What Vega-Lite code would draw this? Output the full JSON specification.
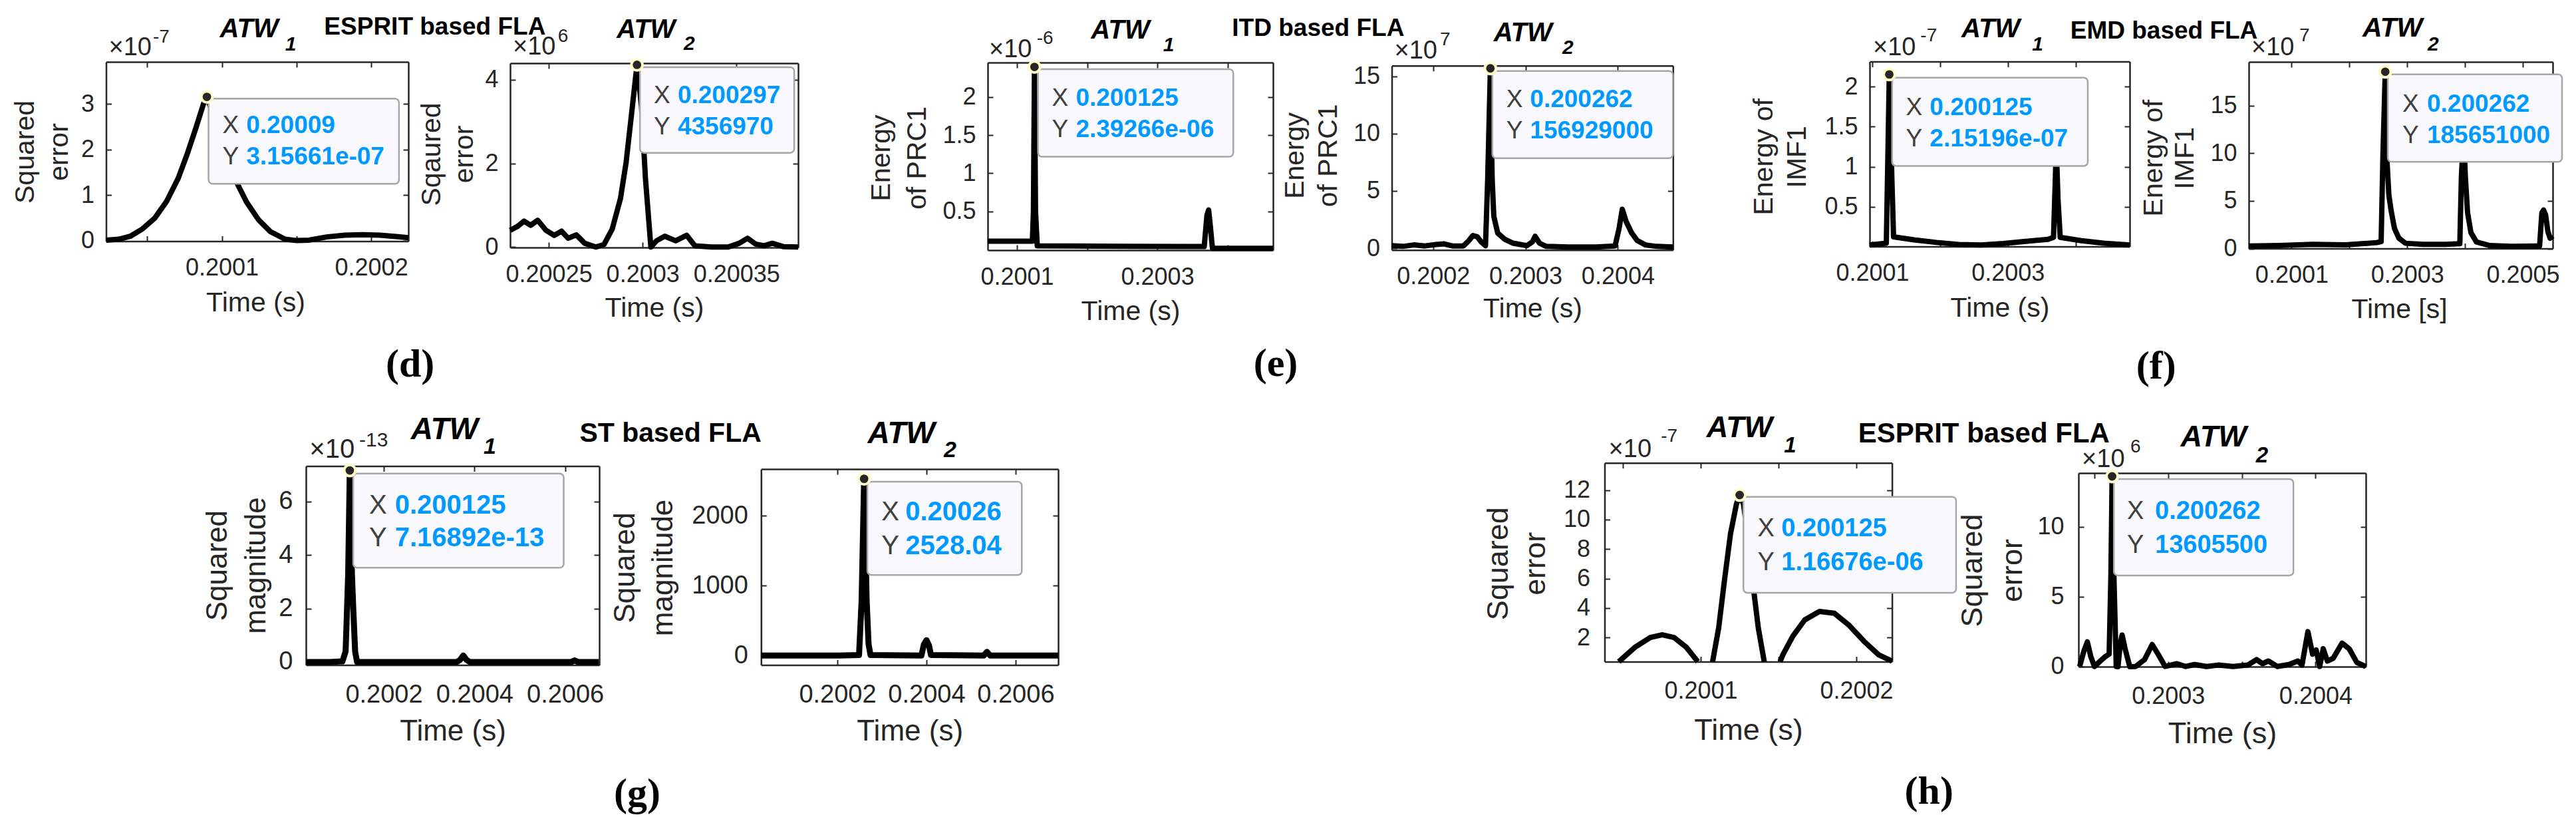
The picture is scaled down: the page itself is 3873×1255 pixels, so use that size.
{
"$schema": "https://vega.github.io/schema/vega-lite/v6.json",
"width": 3873, "height": 1255, "autosize": {"type": "none"}, "padding": 0, "background": "white",
"config": {"view": {"stroke": null}, "font": "Liberation Sans",
 "axis": {"grid": false, "domainColor": "#262626", "domainWidth": 2.5, "tickColor": "#262626", "tickWidth": 2, "tickSize": -8, "labelColor": "#262626", "labelFont": "Liberation Sans", "titleFont": "Liberation Sans", "titleFontWeight": "normal", "titleColor": "#262626", "labelFlush": false, "labelOverlap": false}},
"datasets": {
 "d1": [{"t":0.2000225,"v":0.01},{"t":0.200031,"v":0.03},{"t":0.200039,"v":0.1},{"t":0.200047,"v":0.26},{"t":0.200055,"v":0.49},{"t":0.2000628,"v":0.85},{"t":0.2000708,"v":1.37},{"t":0.2000767,"v":1.89},{"t":0.2000827,"v":2.48},{"t":0.2000877,"v":3.0},{"t":0.20009,"v":3.15661},{"t":0.2000986,"v":2.35},{"t":0.2001046,"v":1.76},{"t":0.2001105,"v":1.24},{"t":0.2001165,"v":0.85},{"t":0.2001245,"v":0.46},{"t":0.2001324,"v":0.2},{"t":0.2001423,"v":0.03},{"t":0.2001503,"v":0},{"t":0.2001583,"v":0.01},{"t":0.2001702,"v":0.08},{"t":0.2001821,"v":0.12},{"t":0.200194,"v":0.13},{"t":0.200206,"v":0.12},{"t":0.2002179,"v":0.085},{"t":0.2002249,"v":0.065}],
 "d2": [{"t":0.2002294,"v":0.40},{"t":0.2002332,"v":0.49},{"t":0.2002368,"v":0.62},{"t":0.2002403,"v":0.52},{"t":0.2002441,"v":0.64},{"t":0.2002485,"v":0.40},{"t":0.2002529,"v":0.28},{"t":0.2002568,"v":0.38},{"t":0.2002603,"v":0.21},{"t":0.2002647,"v":0.29},{"t":0.2002691,"v":0.09},{"t":0.200275,"v":0.0},{"t":0.2002794,"v":0.06},{"t":0.2002838,"v":0.43},{"t":0.2002882,"v":1.16},{"t":0.2002912,"v":2.02},{"t":0.2002941,"v":3.18},{"t":0.200297,"v":4.35697},{"t":0.2002994,"v":3.36},{"t":0.2003015,"v":1.65},{"t":0.2003044,"v":0.0},{"t":0.2003074,"v":0.15},{"t":0.2003118,"v":0.26},{"t":0.2003176,"v":0.15},{"t":0.2003235,"v":0.28},{"t":0.2003279,"v":0.03},{"t":0.2003368,"v":0.0},{"t":0.2003456,"v":0.0},{"t":0.2003515,"v":0.09},{"t":0.2003559,"v":0.21},{"t":0.2003603,"v":0.07},{"t":0.2003647,"v":0.03},{"t":0.2003691,"v":0.09},{"t":0.200375,"v":0.01},{"t":0.2003829,"v":0.0}],
 "e1": [{"t":0.2000584,"v":0.11},{"t":0.2001,"v":0.11},{"t":0.200122,"v":0.11},{"t":0.2001235,"v":0.5},{"t":0.200125,"v":2.39266},{"t":0.2001265,"v":0.5},{"t":0.200129,"v":0.05},{"t":0.2001784,"v":0.047},{"t":0.2002569,"v":0.043},{"t":0.2003353,"v":0.04},{"t":0.2003667,"v":0.04},{"t":0.2003706,"v":0.45},{"t":0.200373,"v":0.52},{"t":0.2003755,"v":0.3},{"t":0.2003784,"v":0.017},{"t":0.2004137,"v":0.017},{"t":0.2004647,"v":0.017}],
 "e2": [{"t":0.2001552,"v":0.22},{"t":0.2001672,"v":0.16},{"t":0.2001791,"v":0.29},{"t":0.200191,"v":0.2},{"t":0.200203,"v":0.33},{"t":0.2002119,"v":0.38},{"t":0.2002209,"v":0.2},{"t":0.2002328,"v":0.2},{"t":0.2002388,"v":0.67},{"t":0.200243,"v":1.11},{"t":0.2002478,"v":1.0},{"t":0.2002519,"v":0.56},{"t":0.2002567,"v":0.22},{"t":0.2002591,"v":6.1},{"t":0.200262,"v":15.6929},{"t":0.2002639,"v":6.1},{"t":0.2002657,"v":2.78},{"t":0.2002699,"v":1.33},{"t":0.2002776,"v":0.78},{"t":0.2002866,"v":0.44},{"t":0.2003015,"v":0.22},{"t":0.2003075,"v":0.56},{"t":0.2003104,"v":1.04},{"t":0.2003152,"v":0.44},{"t":0.2003224,"v":0.16},{"t":0.2003463,"v":0.11},{"t":0.2003761,"v":0.11},{"t":0.200397,"v":0.2},{"t":0.2004012,"v":1.67},{"t":0.2004048,"v":3.4},{"t":0.200409,"v":2.33},{"t":0.200415,"v":1.33},{"t":0.200421,"v":0.67},{"t":0.2004299,"v":0.29},{"t":0.2004418,"v":0.16},{"t":0.2004597,"v":0.11}],
 "f1": [{"t":0.2000959,"v":0.025},{"t":0.2001206,"v":0.048},{"t":0.200123,"v":1.17},{"t":0.200125,"v":2.15196},{"t":0.2001288,"v":0.86},{"t":0.2001313,"v":0.127},{"t":0.2001617,"v":0.089},{"t":0.2001947,"v":0.057},{"t":0.2002276,"v":0.032},{"t":0.2002605,"v":0.025},{"t":0.2002934,"v":0.044},{"t":0.2003263,"v":0.07},{"t":0.2003593,"v":0.095},{"t":0.2003675,"v":0.12},{"t":0.2003716,"v":1.25},{"t":0.2003741,"v":0.6},{"t":0.2003774,"v":0.12},{"t":0.2004086,"v":0.079},{"t":0.2004416,"v":0.048},{"t":0.2004799,"v":0.025}],
 "f2": [{"t":0.2000259,"v":0.27},{"t":0.2000785,"v":0.31},{"t":0.200136,"v":0.43},{"t":0.2001935,"v":0.38},{"t":0.2002472,"v":0.62},{"t":0.2002549,"v":0.73},{"t":0.200258,"v":9.8},{"t":0.200262,"v":18.5651},{"t":0.2002645,"v":9.8},{"t":0.2002683,"v":5.6},{"t":0.2002721,"v":4.0},{"t":0.2002779,"v":2.13},{"t":0.2002856,"v":1.08},{"t":0.2002971,"v":0.55},{"t":0.2003277,"v":0.43},{"t":0.2003661,"v":0.43},{"t":0.200391,"v":0.5},{"t":0.2003937,"v":7.5},{"t":0.2003975,"v":12.2},{"t":0.2004006,"v":7.5},{"t":0.2004044,"v":3.76},{"t":0.2004102,"v":1.67},{"t":0.2004197,"v":0.69},{"t":0.2004427,"v":0.31},{"t":0.2004812,"v":0.22},{"t":0.200529,"v":0.27},{"t":0.2005329,"v":3.76},{"t":0.2005359,"v":4.04},{"t":0.2005394,"v":3.53},{"t":0.2005433,"v":1.78},{"t":0.2005471,"v":1.08},{"t":0.2005517,"v":1.32}],
 "g1": [{"t":0.2000288,"v":0},{"t":0.2000807,"v":0},{"t":0.2001088,"v":0.02},{"t":0.2001158,"v":0.39},{"t":0.2001214,"v":3.26},{"t":0.200125,"v":7.16892},{"t":0.2001298,"v":3.26},{"t":0.2001326,"v":2.03},{"t":0.2001368,"v":0.39},{"t":0.200141,"v":0},{"t":0.2002211,"v":0},{"t":0.2003614,"v":0},{"t":0.2003684,"v":0.08},{"t":0.2003754,"v":0.24},{"t":0.2003825,"v":0.08},{"t":0.2003895,"v":0},{"t":0.200614,"v":0},{"t":0.200621,"v":0.06},{"t":0.200628,"v":0},{"t":0.2006744,"v":0}],
 "g2": [{"t":0.2000287,"v":0},{"t":0.2002029,"v":0},{"t":0.2002486,"v":8},{"t":0.2002543,"v":778},{"t":0.20026,"v":2528.04},{"t":0.2002657,"v":778},{"t":0.20027,"v":162},{"t":0.2002743,"v":8},{"t":0.2003886,"v":0},{"t":0.2003943,"v":162},{"t":0.2004,"v":220},{"t":0.2004057,"v":143},{"t":0.20041,"v":8},{"t":0.2005286,"v":0},{"t":0.2005357,"v":54},{"t":0.2005429,"v":0},{"t":0.2006957,"v":0}],
 "h1": [{"seg":"a","t":0.2000473,"v":0.356},{"seg":"a","t":0.200058,"v":1.36},{"seg":"a","t":0.2000676,"v":2.0},{"seg":"a","t":0.2000752,"v":2.18},{"seg":"a","t":0.2000828,"v":2.0},{"seg":"a","t":0.2000905,"v":1.36},{"seg":"a","t":0.2000981,"v":0.356},
        {"seg":"b","t":0.2001076,"v":0.356},{"seg":"b","t":0.2001115,"v":2.64},{"seg":"b","t":0.2001153,"v":5.93},{"seg":"b","t":0.2001191,"v":9.03},{"seg":"b","t":0.2001229,"v":11.04},{"seg":"b","t":0.200125,"v":11.6676},{"seg":"b","t":0.2001275,"v":11.04},{"seg":"b","t":0.2001305,"v":8.67},{"seg":"b","t":0.2001336,"v":5.56},{"seg":"b","t":0.200137,"v":2.64},{"seg":"b","t":0.2001408,"v":0.356},
        {"seg":"c","t":0.200151,"v":0.356},{"seg":"c","t":0.2001527,"v":0.81},{"seg":"c","t":0.2001592,"v":2.09},{"seg":"c","t":0.2001668,"v":3.19},{"seg":"c","t":0.2001763,"v":3.77},{"seg":"c","t":0.2001859,"v":3.64},{"seg":"c","t":0.2001954,"v":2.82},{"seg":"c","t":0.200205,"v":1.73},{"seg":"c","t":0.2002145,"v":0.81},{"seg":"c","t":0.2002229,"v":0.4}],
 "h2": [{"t":0.20024,"v":0},{"t":0.2002428,"v":1.08},{"t":0.2002452,"v":1.76},{"t":0.2002476,"v":0.69},{"t":0.20025,"v":0},{"t":0.200254,"v":0.39},{"t":0.2002572,"v":0.69},{"t":0.20026,"v":0.88},{"t":0.2002612,"v":6.6},{"t":0.200262,"v":13.6055},{"t":0.2002632,"v":6.6},{"t":0.2002648,"v":0},{"t":0.200266,"v":-0.01},{"t":0.2002676,"v":1.67},{"t":0.2002688,"v":2.25},{"t":0.2002708,"v":1.27},{"t":0.200274,"v":-0.01},{"t":0.200278,"v":0},{"t":0.200284,"v":0.49},{"t":0.2002892,"v":1.57},{"t":0.2002932,"v":0.88},{"t":0.200298,"v":0},{"t":0.200306,"v":0.2},{"t":0.200312,"v":0},{"t":0.200318,"v":0.14},{"t":0.200326,"v":0},{"t":0.200334,"v":0.1},{"t":0.200344,"v":0},{"t":0.200354,"v":0.1},{"t":0.20036,"v":0.49},{"t":0.200364,"v":0.2},{"t":0.200368,"v":0.39},{"t":0.200374,"v":0},{"t":0.200382,"v":0.14},{"t":0.200388,"v":0.39},{"t":0.2003908,"v":0.1},{"t":0.2003948,"v":2.49},{"t":0.200398,"v":0.88},{"t":0.2004004,"v":1.18},{"t":0.2004028,"v":0},{"t":0.2004052,"v":1.27},{"t":0.200408,"v":0.39},{"t":0.200412,"v":0.59},{"t":0.200418,"v":1.67},{"t":0.2004228,"v":1.27},{"t":0.200428,"v":0.29},{"t":0.2004341,"v":-0.01}]
},
"resolve": {"scale": {"x": "independent", "y": "independent"}, "axis": {"x": "independent", "y": "independent"}},
"layer": [
{"data": {"values": [{}]}, "layer": [
 {"data": {"name": "d1"}, "mark": {"type": "line", "color": "#000000", "strokeWidth": 8, "strokeJoin": "round"},
  "encoding": {
   "x": {"field": "t", "type": "quantitative", "scale": {"domain": [0.2000225, 0.2002249], "range": [159.5, 614], "nice": false, "zero": false},
    "axis": {"orient": "bottom", "offset": -892.5, "values": [0.20005, 0.2001, 0.20015, 0.2002], "format": ".5~f", "labelExpr": "indexof(['0.2001','0.2002'], datum.label) >= 0 ? datum.label : ''", "labelFontSize": 36, "labelPadding": 31, "title": "Time (s)", "titleFontSize": 41, "titleX": 384, "titleY": 93, "titleBaseline": "middle", "titleAlign": "center"}},
   "y": {"field": "v", "type": "quantitative", "scale": {"domain": [-0.013, 3.925], "range": [362.5, 93], "nice": false, "zero": false},
    "axis": {"orient": "left", "offset": -159.5, "values": [0, 1, 2, 3], "format": "~f", "labelFontSize": 36, "labelPadding": 26, "title": ["Squared", "error"], "titleFontSize": 41, "titleAngle": 270, "titleX": -121.5, "titleY": 228, "titleBaseline": "middle", "titleAlign": "center", "titleLineHeight": 51}}}},
 {"mark": {"type": "rect", "fill": "#f9f9fd", "stroke": "#a6a6a6", "strokeWidth": 2.5, "cornerRadius": 6},
  "encoding": {"x": {"datum": 0.2000911, "type": "quantitative", "axis": null}, "x2": {"datum": 0.2002186}, "y": {"datum": 3.118, "type": "quantitative", "axis": null}, "y2": {"datum": 1.247}}},
 {"mark": {"type": "text", "text": ["X", "Y"], "align": "left", "baseline": "alphabetic", "fontSize": 37, "lineHeight": 47, "color": "#404040"},
  "encoding": {"x": {"datum": 0.2001004, "type": "quantitative", "axis": null}, "y": {"datum": 2.364, "type": "quantitative", "axis": null}}},
 {"mark": {"type": "text", "text": ["0.20009", "3.15661e-07"], "align": "left", "baseline": "alphabetic", "fontSize": 37, "fontWeight": "bold", "lineHeight": 47, "color": "#0099ff"},
  "encoding": {"x": {"datum": 0.2001163, "type": "quantitative", "axis": null}, "y": {"datum": 2.364, "type": "quantitative", "axis": null}}},
 {"mark": {"type": "text", "text": "ATW", "align": "left", "baseline": "alphabetic", "fontSize": 40, "fontWeight": "bold", "fontStyle": "italic", "color": "#000000"},
  "encoding": {"x": {"datum": 0.2000986, "type": "quantitative", "axis": null}, "y": {"datum": 4.4666, "type": "quantitative", "axis": null}}},
 {"mark": {"type": "text", "text": "1", "align": "left", "baseline": "alphabetic", "fontSize": 30, "fontWeight": "bold", "fontStyle": "italic", "color": "#000000"},
  "encoding": {"x": {"datum": 0.2001424, "type": "quantitative", "axis": null}, "y": {"datum": 4.1766, "type": "quantitative", "axis": null}}},
 {"mark": {"type": "text", "text": "×10", "align": "left", "baseline": "alphabetic", "fontSize": 38, "color": "#262626"},
  "encoding": {"x": {"datum": 0.2000243, "type": "quantitative", "axis": null}, "y": {"datum": 4.075, "type": "quantitative", "axis": null}}},
 {"mark": {"type": "text", "text": "-7", "align": "left", "baseline": "alphabetic", "fontSize": 28, "color": "#262626"},
  "encoding": {"x": {"datum": 0.2000539, "type": "quantitative", "axis": null}, "y": {"datum": 4.351, "type": "quantitative", "axis": null}}},
 {"mark": {"type": "text", "text": "ESPRIT based FLA", "align": "left", "baseline": "alphabetic", "fontSize": 37, "fontWeight": "bold", "color": "#000000"},
  "encoding": {"x": {"datum": 0.2001685, "type": "quantitative", "axis": null}, "y": {"datum": 4.53, "type": "quantitative", "axis": null}}},
 {"mark": {"type": "text", "text": "(d)", "align": "center", "baseline": "middle", "font": "Liberation Serif", "fontSize": 60, "fontWeight": "bold", "color": "#000000"},
  "encoding": {"x": {"datum": 0.2002261, "type": "quantitative", "axis": null}, "y": {"datum": -2.7264, "type": "quantitative", "axis": null}}},
 {"data": {"values": [{"t": 0.20009, "v": 3.15661}]},
  "mark": {"type": "point", "shape": "circle", "filled": true, "size": 283, "fill": "#262626", "stroke": "#ffffcc", "strokeWidth": 4, "opacity": 1},
  "encoding": {"x": {"field": "t", "type": "quantitative", "axis": {"orient": "top", "offset": -93, "values": [0.20005, 0.2001, 0.20015, 0.2002], "labels": false, "title": null}},
   "y": {"field": "v", "type": "quantitative", "axis": {"orient": "right", "offset": -3259, "values": [0, 1, 2, 3], "labels": false, "title": null}}}}
]},
{"data": {"values": [{}]}, "layer": [
 {"data": {"name": "d2"}, "mark": {"type": "line", "color": "#000000", "strokeWidth": 8, "strokeJoin": "round"},
  "encoding": {
   "x": {"field": "t", "type": "quantitative", "scale": {"domain": [0.2002294, 0.2003829], "range": [767, 1200], "nice": false, "zero": false},
    "axis": {"orient": "bottom", "offset": -883, "values": [0.20025, 0.2003, 0.20035], "format": ".5~f", "labelFontSize": 36, "labelPadding": 31, "title": "Time (s)", "titleFontSize": 41, "titleX": 983.5, "titleY": 91, "titleBaseline": "middle", "titleAlign": "center"}},
   "y": {"field": "v", "type": "quantitative", "scale": {"domain": [-0.011, 4.396], "range": [372, 95], "nice": false, "zero": false},
    "axis": {"orient": "left", "offset": -767, "values": [0, 2, 4], "format": "~f", "labelFontSize": 36, "labelPadding": 26, "title": ["Sqaured", "error"], "titleFontSize": 41, "titleAngle": 270, "titleX": -118, "titleY": 231.5, "titleBaseline": "middle", "titleAlign": "center", "titleLineHeight": 49}}}},
 {"mark": {"type": "rect", "fill": "#f9f9fd", "stroke": "#a6a6a6", "strokeWidth": 2.5, "cornerRadius": 6},
  "encoding": {"x": {"datum": 0.2002986, "type": "quantitative", "axis": null}, "x2": {"datum": 0.2003808}, "y": {"datum": 4.301, "type": "quantitative", "axis": null}, "y2": {"datum": 2.254}}},
 {"mark": {"type": "text", "text": ["X", "Y"], "align": "left", "baseline": "alphabetic", "fontSize": 37, "lineHeight": 47, "color": "#404040"},
  "encoding": {"x": {"datum": 0.200306, "type": "quantitative", "axis": null}, "y": {"datum": 3.444, "type": "quantitative", "axis": null}}},
 {"mark": {"type": "text", "text": ["0.200297", "4356970"], "align": "left", "baseline": "alphabetic", "fontSize": 37, "fontWeight": "bold", "lineHeight": 47, "color": "#0099ff"},
  "encoding": {"x": {"datum": 0.2003187, "type": "quantitative", "axis": null}, "y": {"datum": 3.444, "type": "quantitative", "axis": null}}},
 {"mark": {"type": "text", "text": "ATW", "align": "left", "baseline": "alphabetic", "fontSize": 40, "fontWeight": "bold", "fontStyle": "italic", "color": "#000000"},
  "encoding": {"x": {"datum": 0.2002862, "type": "quantitative", "axis": null}, "y": {"datum": 5.0, "type": "quantitative", "axis": null}}},
 {"mark": {"type": "text", "text": "2", "align": "left", "baseline": "alphabetic", "fontSize": 30, "fontWeight": "bold", "fontStyle": "italic", "color": "#000000"},
  "encoding": {"x": {"datum": 0.2003219, "type": "quantitative", "axis": null}, "y": {"datum": 4.714, "type": "quantitative", "axis": null}}},
 {"mark": {"type": "text", "text": "×10", "align": "left", "baseline": "alphabetic", "fontSize": 38, "color": "#262626"},
  "encoding": {"x": {"datum": 0.2002308, "type": "quantitative", "axis": null}, "y": {"datum": 4.603, "type": "quantitative", "axis": null}}},
 {"mark": {"type": "text", "text": "6", "align": "left", "baseline": "alphabetic", "fontSize": 28, "color": "#262626"},
  "encoding": {"x": {"datum": 0.2002548, "type": "quantitative", "axis": null}, "y": {"datum": 4.904, "type": "quantitative", "axis": null}}},
 {"data": {"values": [{"t": 0.200297, "v": 4.35697}]},
  "mark": {"type": "point", "shape": "circle", "filled": true, "size": 283, "fill": "#262626", "stroke": "#ffffcc", "strokeWidth": 4, "opacity": 1},
  "encoding": {"x": {"field": "t", "type": "quantitative", "axis": {"orient": "top", "offset": -95, "values": [0.20025, 0.2003, 0.20035], "labels": false, "title": null}},
   "y": {"field": "v", "type": "quantitative", "axis": {"orient": "right", "offset": -2673, "values": [0, 2, 4], "labels": false, "title": null}}}}
]},
{"data": {"values": [{}]}, "layer": [
 {"data": {"name": "e1"}, "mark": {"type": "line", "color": "#000000", "strokeWidth": 8, "strokeJoin": "round"},
  "encoding": {
   "x": {"field": "t", "type": "quantitative", "scale": {"domain": [0.2000584, 0.2004647], "range": [1485, 1914], "nice": false, "zero": false},
    "axis": {"orient": "bottom", "offset": -879, "values": [0.2001, 0.2002, 0.2003, 0.2004], "format": ".5~f", "labelExpr": "indexof(['0.2001','0.2003'], datum.label) >= 0 ? datum.label : ''", "labelFontSize": 36, "labelPadding": 31, "title": "Time (s)", "titleFontSize": 41, "titleX": 1699.5, "titleY": 92.7, "titleBaseline": "middle", "titleAlign": "center"}},
   "y": {"field": "v", "type": "quantitative", "scale": {"domain": [-0.007, 2.45], "range": [376, 94], "nice": false, "zero": false},
    "axis": {"orient": "left", "offset": -1485, "values": [0.5, 1, 1.5, 2], "format": "~f", "labelFontSize": 36, "labelPadding": 26, "title": ["Energy", "of PRC1"], "titleFontSize": 41, "titleAngle": 270, "titleX": -159.4, "titleY": 237, "titleBaseline": "middle", "titleAlign": "center", "titleLineHeight": 54}}}},
 {"mark": {"type": "rect", "fill": "#f9f9fd", "stroke": "#a6a6a6", "strokeWidth": 2.5, "cornerRadius": 6},
  "encoding": {"x": {"datum": 0.20013, "type": "quantitative", "axis": null}, "x2": {"datum": 0.2004081}, "y": {"datum": 2.3637, "type": "quantitative", "axis": null}, "y2": {"datum": 1.2164}}},
 {"mark": {"type": "text", "text": ["X", "Y"], "align": "left", "baseline": "alphabetic", "fontSize": 37, "lineHeight": 47, "color": "#404040"},
  "encoding": {"x": {"datum": 0.2001498, "type": "quantitative", "axis": null}, "y": {"datum": 1.8806, "type": "quantitative", "axis": null}}},
 {"mark": {"type": "text", "text": ["0.200125", "2.39266e-06"], "align": "left", "baseline": "alphabetic", "fontSize": 37, "fontWeight": "bold", "lineHeight": 47, "color": "#0099ff"},
  "encoding": {"x": {"datum": 0.2001838, "type": "quantitative", "axis": null}, "y": {"datum": 1.8806, "type": "quantitative", "axis": null}}},
 {"mark": {"type": "text", "text": "ATW", "align": "left", "baseline": "alphabetic", "fontSize": 40, "fontWeight": "bold", "fontStyle": "italic", "color": "#000000"},
  "encoding": {"x": {"datum": 0.2002055, "type": "quantitative", "axis": null}, "y": {"datum": 2.7606, "type": "quantitative", "axis": null}}},
 {"mark": {"type": "text", "text": "1", "align": "left", "baseline": "alphabetic", "fontSize": 30, "fontWeight": "bold", "fontStyle": "italic", "color": "#000000"},
  "encoding": {"x": {"datum": 0.2003082, "type": "quantitative", "axis": null}, "y": {"datum": 2.5967, "type": "quantitative", "axis": null}}},
 {"mark": {"type": "text", "text": "×10", "align": "left", "baseline": "alphabetic", "fontSize": 38, "color": "#262626"},
  "encoding": {"x": {"datum": 0.2000603, "type": "quantitative", "axis": null}, "y": {"datum": 2.519, "type": "quantitative", "axis": null}}},
 {"mark": {"type": "text", "text": "-6", "align": "left", "baseline": "alphabetic", "fontSize": 28, "color": "#262626"},
  "encoding": {"x": {"datum": 0.2001282, "type": "quantitative", "axis": null}, "y": {"datum": 2.6916, "type": "quantitative", "axis": null}}},
 {"mark": {"type": "text", "text": "ITD based FLA", "align": "left", "baseline": "alphabetic", "fontSize": 37, "fontWeight": "bold", "color": "#000000"},
  "encoding": {"x": {"datum": 0.2004063, "type": "quantitative", "axis": null}, "y": {"datum": 2.7951, "type": "quantitative", "axis": null}}},
 {"mark": {"type": "text", "text": "(e)", "align": "center", "baseline": "middle", "font": "Liberation Serif", "fontSize": 60, "fontWeight": "bold", "color": "#000000"},
  "encoding": {"x": {"datum": 0.2004685, "type": "quantitative", "axis": null}, "y": {"datum": -1.5011, "type": "quantitative", "axis": null}}},
 {"data": {"values": [{"t": 0.200125, "v": 2.39266}]},
  "mark": {"type": "point", "shape": "circle", "filled": true, "size": 283, "fill": "#262626", "stroke": "#ffffcc", "strokeWidth": 4, "opacity": 1},
  "encoding": {"x": {"field": "t", "type": "quantitative", "axis": {"orient": "top", "offset": -94, "values": [0.2001, 0.2002, 0.2003, 0.2004], "labels": false, "title": null}},
   "y": {"field": "v", "type": "quantitative", "axis": {"orient": "right", "offset": -1959, "values": [0.5, 1, 1.5, 2], "labels": false, "title": null}}}}
]},
{"data": {"values": [{}]}, "layer": [
 {"data": {"name": "e2"}, "mark": {"type": "line", "color": "#000000", "strokeWidth": 8, "strokeJoin": "round"},
  "encoding": {
   "x": {"field": "t", "type": "quantitative", "scale": {"domain": [0.2001552, 0.2004597], "range": [2092.5, 2515.3], "nice": false, "zero": false},
    "axis": {"orient": "bottom", "offset": -879.2, "values": [0.2002, 0.2003, 0.2004], "format": ".5~f", "labelFontSize": 36, "labelPadding": 31, "title": "Time (s)", "titleFontSize": 41, "titleX": 2303.9, "titleY": 89, "titleBaseline": "middle", "titleAlign": "center"}},
   "y": {"field": "v", "type": "quantitative", "scale": {"domain": [-0.157, 15.93], "range": [375.8, 98.7], "nice": false, "zero": false},
    "axis": {"orient": "left", "offset": -2092.5, "values": [0, 5, 10, 15], "format": "~f", "labelFontSize": 36, "labelPadding": 26, "title": ["Energy", "of PRC1"], "titleFontSize": 41, "titleAngle": 270, "titleX": -145, "titleY": 233.4, "titleBaseline": "middle", "titleAlign": "center", "titleLineHeight": 50}}}},
 {"mark": {"type": "rect", "fill": "#f9f9fd", "stroke": "#a6a6a6", "strokeWidth": 2.5, "cornerRadius": 6},
  "encoding": {"x": {"datum": 0.2002641, "type": "quantitative", "axis": null}, "x2": {"datum": 0.2004597}, "y": {"datum": 15.468, "type": "quantitative", "axis": null}, "y2": {"datum": 7.856}}},
 {"mark": {"type": "text", "text": ["X", "Y"], "align": "left", "baseline": "alphabetic", "fontSize": 37, "lineHeight": 47, "color": "#404040"},
  "encoding": {"x": {"datum": 0.2002792, "type": "quantitative", "axis": null}, "y": {"datum": 12.297, "type": "quantitative", "axis": null}}},
 {"mark": {"type": "text", "text": ["0.200262", "156929000"], "align": "left", "baseline": "alphabetic", "fontSize": 37, "fontWeight": "bold", "lineHeight": 47, "color": "#0099ff"},
  "encoding": {"x": {"datum": 0.2003049, "type": "quantitative", "axis": null}, "y": {"datum": 12.297, "type": "quantitative", "axis": null}}},
 {"mark": {"type": "text", "text": "ATW", "align": "left", "baseline": "alphabetic", "fontSize": 40, "fontWeight": "bold", "fontStyle": "italic", "color": "#000000"},
  "encoding": {"x": {"datum": 0.2002655, "type": "quantitative", "axis": null}, "y": {"datum": 18.064, "type": "quantitative", "axis": null}}},
 {"mark": {"type": "text", "text": "2", "align": "left", "baseline": "alphabetic", "fontSize": 30, "fontWeight": "bold", "fontStyle": "italic", "color": "#000000"},
  "encoding": {"x": {"datum": 0.20034, "type": "quantitative", "axis": null}, "y": {"datum": 16.968, "type": "quantitative", "axis": null}}},
 {"mark": {"type": "text", "text": "×10", "align": "left", "baseline": "alphabetic", "fontSize": 38, "color": "#262626"},
  "encoding": {"x": {"datum": 0.2001581, "type": "quantitative", "axis": null}, "y": {"datum": 16.564, "type": "quantitative", "axis": null}}},
 {"mark": {"type": "text", "text": "7", "align": "left", "baseline": "alphabetic", "fontSize": 28, "color": "#262626"},
  "encoding": {"x": {"datum": 0.2002075, "type": "quantitative", "axis": null}, "y": {"datum": 17.718, "type": "quantitative", "axis": null}}},
 {"data": {"values": [{"t": 0.200262, "v": 15.6929}]},
  "mark": {"type": "point", "shape": "circle", "filled": true, "size": 283, "fill": "#262626", "stroke": "#ffffcc", "strokeWidth": 4, "opacity": 1},
  "encoding": {"x": {"field": "t", "type": "quantitative", "axis": {"orient": "top", "offset": -98.7, "values": [0.2002, 0.2003, 0.2004], "labels": false, "title": null}},
   "y": {"field": "v", "type": "quantitative", "axis": {"orient": "right", "offset": -1357.7, "values": [0, 5, 10, 15], "labels": false, "title": null}}}}
]},
{"data": {"values": [{}]}, "layer": [
 {"data": {"name": "f1"}, "mark": {"type": "line", "color": "#000000", "strokeWidth": 8, "strokeJoin": "round"},
  "encoding": {
   "x": {"field": "t", "type": "quantitative", "scale": {"domain": [0.200096, 0.20048], "range": [2811, 3202], "nice": false, "zero": false},
    "axis": {"orient": "bottom", "offset": -884.6, "values": [0.2001, 0.2002, 0.2003, 0.2004], "format": ".5~f", "labelExpr": "indexof(['0.2001','0.2003'], datum.label) >= 0 ? datum.label : ''", "labelFontSize": 36, "labelPadding": 31, "title": "Time (s)", "titleFontSize": 41, "titleX": 3006.5, "titleY": 92.6, "titleBaseline": "middle", "titleAlign": "center"}},
   "y": {"field": "v", "type": "quantitative", "scale": {"domain": [0.007, 2.312], "range": [370.4, 92.6], "nice": false, "zero": false},
    "axis": {"orient": "left", "offset": -2811, "values": [0.5, 1, 1.5, 2], "format": "~f", "labelFontSize": 36, "labelPadding": 26, "title": ["Energy of", "IMF1"], "titleFontSize": 41, "titleAngle": 270, "titleX": -159, "titleY": 235.3, "titleBaseline": "middle", "titleAlign": "center", "titleLineHeight": 50}}}},
 {"mark": {"type": "rect", "fill": "#f9f9fd", "stroke": "#a6a6a6", "strokeWidth": 2.5, "cornerRadius": 6},
  "encoding": {"x": {"datum": 0.2001291, "type": "quantitative", "axis": null}, "x2": {"datum": 0.2004181}, "y": {"datum": 2.1113, "type": "quantitative", "axis": null}, "y2": {"datum": 1.0101}}},
 {"mark": {"type": "text", "text": ["X", "Y"], "align": "left", "baseline": "alphabetic", "fontSize": 37, "lineHeight": 47, "color": "#404040"},
  "encoding": {"x": {"datum": 0.2001496, "type": "quantitative", "axis": null}, "y": {"datum": 1.6435, "type": "quantitative", "axis": null}}},
 {"mark": {"type": "text", "text": ["0.200125", "2.15196e-07"], "align": "left", "baseline": "alphabetic", "fontSize": 37, "fontWeight": "bold", "lineHeight": 47, "color": "#0099ff"},
  "encoding": {"x": {"datum": 0.2001847, "type": "quantitative", "axis": null}, "y": {"datum": 1.6435, "type": "quantitative", "axis": null}}},
 {"mark": {"type": "text", "text": "ATW", "align": "left", "baseline": "alphabetic", "fontSize": 40, "fontWeight": "bold", "fontStyle": "italic", "color": "#000000"},
  "encoding": {"x": {"datum": 0.2002315, "type": "quantitative", "axis": null}, "y": {"datum": 2.6164, "type": "quantitative", "axis": null}}},
 {"mark": {"type": "text", "text": "1", "align": "left", "baseline": "alphabetic", "fontSize": 30, "fontWeight": "bold", "fontStyle": "italic", "color": "#000000"},
  "encoding": {"x": {"datum": 0.2003358, "type": "quantitative", "axis": null}, "y": {"datum": 2.4508, "type": "quantitative", "axis": null}}},
 {"mark": {"type": "text", "text": "×10", "align": "left", "baseline": "alphabetic", "fontSize": 38, "color": "#262626"},
  "encoding": {"x": {"datum": 0.2001009, "type": "quantitative", "axis": null}, "y": {"datum": 2.3928, "type": "quantitative", "axis": null}}},
 {"mark": {"type": "text", "text": "-7", "align": "left", "baseline": "alphabetic", "fontSize": 28, "color": "#262626"},
  "encoding": {"x": {"datum": 0.200171, "type": "quantitative", "axis": null}, "y": {"datum": 2.5667, "type": "quantitative", "axis": null}}},
 {"mark": {"type": "text", "text": "EMD based FLA", "align": "left", "baseline": "alphabetic", "fontSize": 37, "fontWeight": "bold", "color": "#000000"},
  "encoding": {"x": {"datum": 0.2003923, "type": "quantitative", "axis": null}, "y": {"datum": 2.5998, "type": "quantitative", "axis": null}}},
 {"mark": {"type": "text", "text": "(f)", "align": "center", "baseline": "middle", "font": "Liberation Serif", "fontSize": 60, "fontWeight": "bold", "color": "#000000"},
  "encoding": {"x": {"datum": 0.200519, "type": "quantitative", "axis": null}, "y": {"datum": -1.4903, "type": "quantitative", "axis": null}}},
 {"data": {"values": [{"t": 0.200125, "v": 2.15196}]},
  "mark": {"type": "point", "shape": "circle", "filled": true, "size": 283, "fill": "#262626", "stroke": "#ffffcc", "strokeWidth": 4, "opacity": 1},
  "encoding": {"x": {"field": "t", "type": "quantitative", "axis": {"orient": "top", "offset": -92.6, "values": [0.2001, 0.2002, 0.2003, 0.2004], "labels": false, "title": null}},
   "y": {"field": "v", "type": "quantitative", "axis": {"orient": "right", "offset": -671, "values": [0.5, 1, 1.5, 2], "labels": false, "title": null}}}}
]},
{"data": {"values": [{}]}, "layer": [
 {"data": {"name": "f2"}, "mark": {"type": "line", "color": "#000000", "strokeWidth": 8, "strokeJoin": "round"},
  "encoding": {
   "x": {"field": "t", "type": "quantitative", "scale": {"domain": [0.2000259, 0.2005517], "range": [3381, 3838], "nice": false, "zero": false},
    "axis": {"orient": "bottom", "offset": -881.5, "values": [0.2001, 0.2002, 0.2003, 0.2004, 0.2005], "format": ".5~f", "labelExpr": "indexof(['0.2001','0.2003','0.2005'], datum.label) >= 0 ? datum.label : ''", "labelFontSize": 36, "labelPadding": 31, "title": "Time [s]", "titleFontSize": 41, "titleX": 3607, "titleY": 91.5, "titleBaseline": "middle", "titleAlign": "center"}},
   "y": {"field": "v", "type": "quantitative", "scale": {"domain": [0, 19.6], "range": [373.5, 93], "nice": false, "zero": false},
    "axis": {"orient": "left", "offset": -3381, "values": [0, 5, 10, 15], "format": "~f", "labelFontSize": 36, "labelPadding": 26, "title": ["Energy of", "IMF1"], "titleFontSize": 41, "titleAngle": 270, "titleX": -142.7, "titleY": 237.2, "titleBaseline": "middle", "titleAlign": "center", "titleLineHeight": 47}}}},
 {"mark": {"type": "rect", "fill": "#f9f9fd", "stroke": "#a6a6a6", "strokeWidth": 2.5, "cornerRadius": 6},
  "encoding": {"x": {"datum": 0.2002664, "type": "quantitative", "axis": null}, "x2": {"datum": 0.2005678}, "y": {"datum": 18.293, "type": "quantitative", "axis": null}, "y2": {"datum": 9.098}}},
 {"mark": {"type": "text", "text": ["X", "Y"], "align": "left", "baseline": "alphabetic", "fontSize": 37, "lineHeight": 47, "color": "#404040"},
  "encoding": {"x": {"datum": 0.2002917, "type": "quantitative", "axis": null}, "y": {"datum": 14.359, "type": "quantitative", "axis": null}}},
 {"mark": {"type": "text", "text": ["0.200262", "185651000"], "align": "left", "baseline": "alphabetic", "fontSize": 37, "fontWeight": "bold", "lineHeight": 47, "color": "#0099ff"},
  "encoding": {"x": {"datum": 0.2003342, "type": "quantitative", "axis": null}, "y": {"datum": 14.359, "type": "quantitative", "axis": null}}},
 {"mark": {"type": "text", "text": "ATW", "align": "left", "baseline": "alphabetic", "fontSize": 41, "fontWeight": "bold", "fontStyle": "italic", "color": "#000000"},
  "encoding": {"x": {"datum": 0.2002226, "type": "quantitative", "axis": null}, "y": {"datum": 22.255, "type": "quantitative", "axis": null}}},
 {"mark": {"type": "text", "text": "2", "align": "left", "baseline": "alphabetic", "fontSize": 30, "fontWeight": "bold", "fontStyle": "italic", "color": "#000000"},
  "encoding": {"x": {"datum": 0.2003354, "type": "quantitative", "axis": null}, "y": {"datum": 20.788, "type": "quantitative", "axis": null}}},
 {"mark": {"type": "text", "text": "×10", "align": "left", "baseline": "alphabetic", "fontSize": 38, "color": "#262626"},
  "encoding": {"x": {"datum": 0.2000305, "type": "quantitative", "axis": null}, "y": {"datum": 20.299, "type": "quantitative", "axis": null}}},
 {"mark": {"type": "text", "text": "7", "align": "left", "baseline": "alphabetic", "fontSize": 28, "color": "#262626"},
  "encoding": {"x": {"datum": 0.2001133, "type": "quantitative", "axis": null}, "y": {"datum": 21.766, "type": "quantitative", "axis": null}}},
 {"data": {"values": [{"t": 0.200262, "v": 18.5651}]},
  "mark": {"type": "point", "shape": "circle", "filled": true, "size": 283, "fill": "#262626", "stroke": "#ffffcc", "strokeWidth": 4, "opacity": 1},
  "encoding": {"x": {"field": "t", "type": "quantitative", "axis": {"orient": "top", "offset": -93, "values": [0.2001, 0.2002, 0.2003, 0.2004, 0.2005], "labels": false, "title": null}},
   "y": {"field": "v", "type": "quantitative", "axis": {"orient": "right", "offset": -35, "values": [0, 5, 10, 15], "labels": false, "title": null}}}}
]},
{"data": {"values": [{}]}, "layer": [
 {"data": {"name": "g1"}, "mark": {"type": "line", "color": "#000000", "strokeWidth": 9, "strokeJoin": "round"},
  "encoding": {
   "x": {"field": "t", "type": "quantitative", "scale": {"domain": [0.2000283, 0.2006754], "range": [460, 901], "nice": false, "zero": false},
    "axis": {"orient": "bottom", "offset": -255.5, "values": [0.2002, 0.2004, 0.2006], "format": ".5~f", "labelFontSize": 38, "labelPadding": 34, "title": "Time (s)", "titleFontSize": 44, "titleX": 680.5, "titleY": 100, "titleBaseline": "middle", "titleAlign": "center"}},
   "y": {"field": "v", "type": "quantitative", "scale": {"domain": [-0.115, 7.332], "range": [999.5, 700.5], "nice": false, "zero": false},
    "axis": {"orient": "left", "offset": -460, "values": [0, 2, 4, 6], "format": "~f", "labelFontSize": 38, "labelPadding": 28, "title": ["Squared", "magnitude"], "titleFontSize": 44, "titleAngle": 270, "titleX": -133, "titleY": 849.6, "titleBaseline": "middle", "titleAlign": "center", "titleLineHeight": 58}}}},
 {"mark": {"type": "rect", "fill": "#f9f9fd", "stroke": "#a6a6a6", "strokeWidth": 2.5, "cornerRadius": 6},
  "encoding": {"x": {"datum": 0.2001325, "type": "quantitative", "axis": null}, "x2": {"datum": 0.200597}, "y": {"datum": 7.05, "type": "quantitative", "axis": null}, "y2": {"datum": 3.525}}},
 {"mark": {"type": "text", "text": ["X", "Y"], "align": "left", "baseline": "alphabetic", "fontSize": 40, "lineHeight": 49, "color": "#404040"},
  "encoding": {"x": {"datum": 0.2001676, "type": "quantitative", "axis": null}, "y": {"datum": 5.55, "type": "quantitative", "axis": null}}},
 {"mark": {"type": "text", "text": ["0.200125", "7.16892e-13"], "align": "left", "baseline": "alphabetic", "fontSize": 40, "fontWeight": "bold", "lineHeight": 49, "color": "#0099ff"},
  "encoding": {"x": {"datum": 0.2002245, "type": "quantitative", "axis": null}, "y": {"datum": 5.55, "type": "quantitative", "axis": null}}},
 {"mark": {"type": "text", "text": "ATW", "align": "left", "baseline": "alphabetic", "fontSize": 46, "fontWeight": "bold", "fontStyle": "italic", "color": "#000000"},
  "encoding": {"x": {"datum": 0.2002596, "type": "quantitative", "axis": null}, "y": {"datum": 8.35, "type": "quantitative", "axis": null}}},
 {"mark": {"type": "text", "text": "1", "align": "left", "baseline": "alphabetic", "fontSize": 34, "fontWeight": "bold", "fontStyle": "italic", "color": "#000000"},
  "encoding": {"x": {"datum": 0.2004202, "type": "quantitative", "axis": null}, "y": {"datum": 7.8, "type": "quantitative", "axis": null}}},
 {"mark": {"type": "text", "text": "×10", "align": "left", "baseline": "alphabetic", "fontSize": 40, "color": "#262626"},
  "encoding": {"x": {"datum": 0.2000361, "type": "quantitative", "axis": null}, "y": {"datum": 7.635, "type": "quantitative", "axis": null}}},
 {"mark": {"type": "text", "text": "-13", "align": "left", "baseline": "alphabetic", "fontSize": 30, "color": "#262626"},
  "encoding": {"x": {"datum": 0.2001457, "type": "quantitative", "axis": null}, "y": {"datum": 8.075, "type": "quantitative", "axis": null}}},
 {"mark": {"type": "text", "text": "ST based FLA", "align": "left", "baseline": "alphabetic", "fontSize": 41, "fontWeight": "bold", "color": "#000000"},
  "encoding": {"x": {"datum": 0.200632, "type": "quantitative", "axis": null}, "y": {"datum": 8.25, "type": "quantitative", "axis": null}}},
 {"mark": {"type": "text", "text": "(g)", "align": "center", "baseline": "middle", "font": "Liberation Serif", "fontSize": 60, "fontWeight": "bold", "color": "#000000"},
  "encoding": {"x": {"datum": 0.2007591, "type": "quantitative", "axis": null}, "y": {"datum": -4.925, "type": "quantitative", "axis": null}}},
 {"data": {"values": [{"t": 0.200125, "v": 7.16892}]},
  "mark": {"type": "point", "shape": "circle", "filled": true, "size": 283, "fill": "#262626", "stroke": "#ffffcc", "strokeWidth": 4, "opacity": 1},
  "encoding": {"x": {"field": "t", "type": "quantitative", "axis": {"orient": "top", "offset": -700.5, "values": [0.2002, 0.2004, 0.2006], "labels": false, "title": null}},
   "y": {"field": "v", "type": "quantitative", "axis": {"orient": "right", "offset": -2972, "values": [0, 2, 4, 6], "labels": false, "title": null}}}}
]},
{"data": {"values": [{}]}, "layer": [
 {"data": {"name": "g2"}, "mark": {"type": "line", "color": "#000000", "strokeWidth": 9, "strokeJoin": "round"},
  "encoding": {
   "x": {"field": "t", "type": "quantitative", "scale": {"domain": [0.2000287, 0.2006957], "range": [1144.3, 1591], "nice": false, "zero": false},
    "axis": {"orient": "bottom", "offset": -255.5, "values": [0.2002, 0.2004, 0.2006], "format": ".5~f", "labelFontSize": 38, "labelPadding": 34, "title": "Time (s)", "titleFontSize": 44, "titleX": 1367.7, "titleY": 100.4, "titleBaseline": "middle", "titleAlign": "center"}},
   "y": {"field": "v", "type": "quantitative", "scale": {"domain": [-135, 2667], "range": [999.5, 705], "nice": false, "zero": false},
    "axis": {"orient": "left", "offset": -1144.3, "values": [0, 1000, 2000], "format": "~f", "labelFontSize": 38, "labelPadding": 28, "title": ["Squared", "magnitude"], "titleFontSize": 44, "titleAngle": 270, "titleX": -203.8, "titleY": 852.9, "titleBaseline": "middle", "titleAlign": "center", "titleLineHeight": 57}}}},
 {"mark": {"type": "rect", "fill": "#f9f9fd", "stroke": "#a6a6a6", "strokeWidth": 2.5, "cornerRadius": 6},
  "encoding": {"x": {"datum": 0.2002672, "type": "quantitative", "axis": null}, "x2": {"datum": 0.200614}, "y": {"datum": 2486.3, "type": "quantitative", "axis": null}, "y2": {"datum": 1153.0}}},
 {"mark": {"type": "text", "text": ["X", "Y"], "align": "left", "baseline": "alphabetic", "fontSize": 40, "lineHeight": 51, "color": "#404040"},
  "encoding": {"x": {"datum": 0.200299, "type": "quantitative", "axis": null}, "y": {"datum": 1937.9, "type": "quantitative", "axis": null}}},
 {"mark": {"type": "text", "text": ["0.20026", "2528.04"], "align": "left", "baseline": "alphabetic", "fontSize": 40, "fontWeight": "bold", "lineHeight": 51, "color": "#0099ff"},
  "encoding": {"x": {"datum": 0.2003525, "type": "quantitative", "axis": null}, "y": {"datum": 1937.9, "type": "quantitative", "axis": null}}},
 {"mark": {"type": "text", "text": "ATW", "align": "left", "baseline": "alphabetic", "fontSize": 46, "fontWeight": "bold", "fontStyle": "italic", "color": "#000000"},
  "encoding": {"x": {"datum": 0.2002678, "type": "quantitative", "axis": null}, "y": {"datum": 3034.8, "type": "quantitative", "axis": null}}},
 {"mark": {"type": "text", "text": "2", "align": "left", "baseline": "alphabetic", "fontSize": 34, "fontWeight": "bold", "fontStyle": "italic", "color": "#000000"},
  "encoding": {"x": {"datum": 0.2004387, "type": "quantitative", "axis": null}, "y": {"datum": 2836.2, "type": "quantitative", "axis": null}}},
 {"data": {"values": [{"t": 0.20026, "v": 2528.04}]},
  "mark": {"type": "point", "shape": "circle", "filled": true, "size": 283, "fill": "#262626", "stroke": "#ffffcc", "strokeWidth": 4, "opacity": 1},
  "encoding": {"x": {"field": "t", "type": "quantitative", "axis": {"orient": "top", "offset": -705, "values": [0.2002, 0.2004, 0.2006], "labels": false, "title": null}},
   "y": {"field": "v", "type": "quantitative", "axis": {"orient": "right", "offset": -2282, "values": [0, 1000, 2000], "labels": false, "title": null}}}}
]},
{"data": {"values": [{}]}, "layer": [
 {"data": {"name": "h1"}, "mark": {"type": "line", "color": "#000000", "strokeWidth": 8, "strokeJoin": "round"},
  "encoding": {
   "detail": {"field": "seg", "type": "nominal"},
   "x": {"field": "t", "type": "quantitative", "scale": {"domain": [0.2000382, 0.2002229], "range": [2412.5, 2844.6], "nice": false, "zero": false},
    "axis": {"orient": "bottom", "offset": -260.4, "values": [0.20005, 0.2001, 0.20015, 0.2002], "format": ".5~f", "labelExpr": "indexof(['0.2001','0.2002'], datum.label) >= 0 ? datum.label : ''", "labelFontSize": 36, "labelPadding": 35, "title": "Time (s)", "titleFontSize": 45, "titleX": 2628.5, "titleY": 103.3, "titleBaseline": "middle", "titleAlign": "center"}},
   "y": {"field": "v", "type": "quantitative", "scale": {"domain": [0.352, 13.85], "range": [994.6, 695.7], "nice": false, "zero": false},
    "axis": {"orient": "left", "offset": -2412.5, "values": [2, 4, 6, 8, 10, 12], "format": "~f", "labelFontSize": 36, "labelPadding": 30, "title": ["Squared", "error"], "titleFontSize": 45, "titleAngle": 270, "titleX": -160.5, "titleY": 846.8, "titleBaseline": "middle", "titleAlign": "center", "titleLineHeight": 56}}}},
 {"mark": {"type": "rect", "fill": "#f9f9fd", "stroke": "#a6a6a6", "strokeWidth": 2.5, "cornerRadius": 6},
  "encoding": {"x": {"datum": 0.2001274, "type": "quantitative", "axis": null}, "x2": {"datum": 0.2002641}, "y": {"datum": 11.548, "type": "quantitative", "axis": null}, "y2": {"datum": 5.03}}},
 {"mark": {"type": "text", "text": ["X", "Y"], "align": "left", "baseline": "alphabetic", "fontSize": 38, "lineHeight": 51, "color": "#404040"},
  "encoding": {"x": {"datum": 0.2001365, "type": "quantitative", "axis": null}, "y": {"datum": 8.851, "type": "quantitative", "axis": null}}},
 {"mark": {"type": "text", "text": ["0.200125", "1.16676e-06"], "align": "left", "baseline": "alphabetic", "fontSize": 38, "fontWeight": "bold", "lineHeight": 51, "color": "#0099ff"},
  "encoding": {"x": {"datum": 0.2001518, "type": "quantitative", "axis": null}, "y": {"datum": 8.851, "type": "quantitative", "axis": null}}},
 {"mark": {"type": "text", "text": "ATW", "align": "left", "baseline": "alphabetic", "fontSize": 45, "fontWeight": "bold", "fontStyle": "italic", "color": "#000000"},
  "encoding": {"x": {"datum": 0.2001037, "type": "quantitative", "axis": null}, "y": {"datum": 15.593, "type": "quantitative", "axis": null}}},
 {"mark": {"type": "text", "text": "1", "align": "left", "baseline": "alphabetic", "fontSize": 33, "fontWeight": "bold", "fontStyle": "italic", "color": "#000000"},
  "encoding": {"x": {"datum": 0.2001535, "type": "quantitative", "axis": null}, "y": {"datum": 14.559, "type": "quantitative", "axis": null}}},
 {"mark": {"type": "text", "text": "×10", "align": "left", "baseline": "alphabetic", "fontSize": 38, "color": "#262626"},
  "encoding": {"x": {"datum": 0.2000408, "type": "quantitative", "axis": null}, "y": {"datum": 14.245, "type": "quantitative", "axis": null}}},
 {"mark": {"type": "text", "text": "-7", "align": "left", "baseline": "alphabetic", "fontSize": 28, "color": "#262626"},
  "encoding": {"x": {"datum": 0.2000744, "type": "quantitative", "axis": null}, "y": {"datum": 15.278, "type": "quantitative", "axis": null}}},
 {"mark": {"type": "text", "text": "ESPRIT based FLA", "align": "left", "baseline": "alphabetic", "fontSize": 42, "fontWeight": "bold", "color": "#000000"},
  "encoding": {"x": {"datum": 0.2002012, "type": "quantitative", "axis": null}, "y": {"datum": 15.234, "type": "quantitative", "axis": null}}},
 {"mark": {"type": "text", "text": "(h)", "align": "center", "baseline": "middle", "font": "Liberation Serif", "fontSize": 60, "fontWeight": "bold", "color": "#000000"},
  "encoding": {"x": {"datum": 0.2002467, "type": "quantitative", "axis": null}, "y": {"datum": -8.4536, "type": "quantitative", "axis": null}}},
 {"data": {"values": [{"t": 0.200125, "v": 11.6676}]},
  "mark": {"type": "point", "shape": "circle", "filled": true, "size": 283, "fill": "#262626", "stroke": "#ffffcc", "strokeWidth": 4, "opacity": 1},
  "encoding": {"x": {"field": "t", "type": "quantitative", "axis": {"orient": "top", "offset": -695.7, "values": [0.20005, 0.2001, 0.20015, 0.2002], "labels": false, "title": null}},
   "y": {"field": "v", "type": "quantitative", "axis": {"orient": "right", "offset": -1028.4, "values": [2, 4, 6, 8, 10, 12], "labels": false, "title": null}}}}
]},
{"data": {"values": [{}]}, "layer": [
 {"data": {"name": "h2"}, "mark": {"type": "line", "color": "#000000", "strokeWidth": 8, "strokeJoin": "round"},
  "encoding": {
   "x": {"field": "t", "type": "quantitative", "scale": {"domain": [0.2002392, 0.2004341], "range": [3125, 3557], "nice": false, "zero": false},
    "axis": {"orient": "bottom", "offset": -253, "values": [0.20025, 0.2003, 0.20035, 0.2004], "format": ".5~f", "labelExpr": "indexof(['0.2003','0.2004'], datum.label) >= 0 ? datum.label : ''", "labelFontSize": 36, "labelPadding": 35, "title": "Time (s)", "titleFontSize": 45, "titleX": 3341, "titleY": 100, "titleBaseline": "middle", "titleAlign": "center"}},
   "y": {"field": "v", "type": "quantitative", "scale": {"domain": [-0.014, 13.843], "range": [1002, 711], "nice": false, "zero": false},
    "axis": {"orient": "left", "offset": -3125, "values": [0, 5, 10], "format": "~f", "labelFontSize": 36, "labelPadding": 30, "title": ["Squared", "error"], "titleFontSize": 45, "titleAngle": 270, "titleX": -160, "titleY": 857, "titleBaseline": "middle", "titleAlign": "center", "titleLineHeight": 60}}}},
 {"mark": {"type": "rect", "fill": "#f9f9fd", "stroke": "#a6a6a6", "strokeWidth": 2.5, "cornerRadius": 6},
  "encoding": {"x": {"datum": 0.2002632, "type": "quantitative", "axis": null}, "x2": {"datum": 0.200385}, "y": {"datum": 13.414, "type": "quantitative", "axis": null}, "y2": {"datum": 6.51}}},
 {"mark": {"type": "text", "text": ["X", "Y"], "align": "left", "baseline": "alphabetic", "fontSize": 38, "lineHeight": 51, "color": "#404040"},
  "encoding": {"x": {"datum": 0.2002721, "type": "quantitative", "axis": null}, "y": {"datum": 10.557, "type": "quantitative", "axis": null}}},
 {"mark": {"type": "text", "text": ["0.200262", "13605500"], "align": "left", "baseline": "alphabetic", "fontSize": 38, "fontWeight": "bold", "lineHeight": 51, "color": "#0099ff"},
  "encoding": {"x": {"datum": 0.2002911, "type": "quantitative", "axis": null}, "y": {"datum": 10.557, "type": "quantitative", "axis": null}}},
 {"mark": {"type": "text", "text": "ATW", "align": "left", "baseline": "alphabetic", "fontSize": 45, "fontWeight": "bold", "fontStyle": "italic", "color": "#000000"},
  "encoding": {"x": {"datum": 0.2003085, "type": "quantitative", "axis": null}, "y": {"datum": 15.748, "type": "quantitative", "axis": null}}},
 {"mark": {"type": "text", "text": "2", "align": "left", "baseline": "alphabetic", "fontSize": 33, "fontWeight": "bold", "fontStyle": "italic", "color": "#000000"},
  "encoding": {"x": {"datum": 0.2003596, "type": "quantitative", "axis": null}, "y": {"datum": 14.605, "type": "quantitative", "axis": null}}},
 {"mark": {"type": "text", "text": "×10", "align": "left", "baseline": "alphabetic", "fontSize": 38, "color": "#262626"},
  "encoding": {"x": {"datum": 0.2002415, "type": "quantitative", "axis": null}, "y": {"datum": 14.286, "type": "quantitative", "axis": null}}},
 {"mark": {"type": "text", "text": "6", "align": "left", "baseline": "alphabetic", "fontSize": 28, "color": "#262626"},
  "encoding": {"x": {"datum": 0.2002744, "type": "quantitative", "axis": null}, "y": {"datum": 15.319, "type": "quantitative", "axis": null}}},
 {"data": {"values": [{"t": 0.200262, "v": 13.6055}]},
  "mark": {"type": "point", "shape": "circle", "filled": true, "size": 283, "fill": "#262626", "stroke": "#ffffcc", "strokeWidth": 4, "opacity": 1},
  "encoding": {"x": {"field": "t", "type": "quantitative", "axis": {"orient": "top", "offset": -711, "values": [0.20025, 0.2003, 0.20035, 0.2004], "labels": false, "title": null}},
   "y": {"field": "v", "type": "quantitative", "axis": {"orient": "right", "offset": -316, "values": [0, 5, 10], "labels": false, "title": null}}}}
]}
]
}
